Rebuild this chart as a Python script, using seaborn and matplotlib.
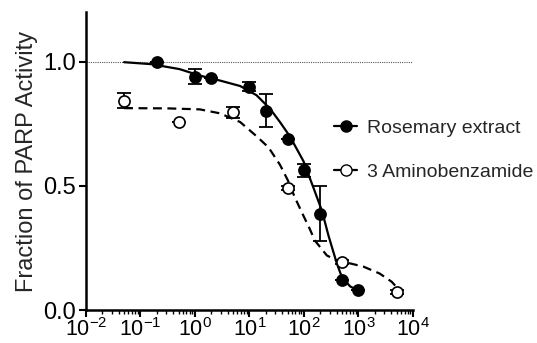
import numpy as np
import pandas as pd
import matplotlib
matplotlib.use("Agg")
import matplotlib.pyplot as plt
from matplotlib.lines import Line2D
from matplotlib.ticker import LogLocator, NullFormatter
import seaborn as sns

# ---- data ----
rose_conc = [0.2, 1, 2, 10, 20, 50, 100, 200, 500, 1000]
rose_frac = [1.0, 0.94, 0.934, 0.90, 0.803, 0.689, 0.562, 0.388, 0.12, 0.08]
rose_err = [0.0, 0.03, 0.0, 0.02, 0.067, 0.0, 0.025, 0.11, 0.0, 0.0]

amb_conc = [0.05, 0.5, 5, 50, 500, 5000]
amb_frac = [0.843, 0.757, 0.797, 0.493, 0.194, 0.074]
amb_err = [0.03, 0.0, 0.022, 0.008, 0.008, 0.008]

# fitted curves (log10 concentration, fraction)
rose_fit_logx = [-1.3, -0.8, -0.28, 0.09, 0.46, 0.83, 1.13, 1.38, 1.56, 1.74,
                 1.99, 2.17, 2.33, 2.45, 2.60, 2.70, 2.85, 3.0]
rose_fit_y = [0.998, 0.99, 0.97, 0.944, 0.924, 0.902, 0.865, 0.81, 0.757, 0.70,
              0.60, 0.495, 0.40, 0.30, 0.19, 0.13, 0.095, 0.078]
amb_fit_logx = [-1.3, -0.5, 0.09, 0.46, 0.83, 1.13, 1.35, 1.56, 1.71, 1.83,
                1.99, 2.10, 2.20, 2.42, 2.60, 2.75, 3.09, 3.39, 3.61, 3.73]
amb_fit_y = [0.813, 0.812, 0.808, 0.792, 0.757, 0.70, 0.655, 0.585, 0.52, 0.455,
             0.38, 0.33, 0.28, 0.22, 0.20, 0.193, 0.175, 0.147, 0.114, 0.085]

labels = ["Rosemary extract", "3 Aminobenzamide"]
y_ticks = [0.0, 0.5, 1.0]
x_ticks = [1e-2, 1e-1, 1e0, 1e1, 1e2, 1e3, 1e4]
x_ticklabels = ["10$^{-2}$", "10$^{-1}$", "10$^{0}$", "10$^{1}$",
                "10$^{2}$", "10$^{3}$", "10$^{4}$"]
ylabel = "Fraction of PARP Activity"

# ---- style ----
sns.set_theme(style="ticks")
plt.rcParams["font.family"] = ["Liberation Sans", "DejaVu Sans"]
plt.rcParams["mathtext.default"] = "regular"

fig = plt.figure(figsize=(5.37, 3.43), dpi=100)
ax = fig.add_axes([0.160, 0.096, 0.609, 0.869])
ax.set_xscale("log")

ax.axhline(1.0, ls=(0, (1, 1)), lw=0.8, color="0.35", zorder=1)

rose_fit = pd.DataFrame({"x": np.power(10.0, rose_fit_logx), "y": rose_fit_y})
amb_fit = pd.DataFrame({"x": np.power(10.0, amb_fit_logx), "y": amb_fit_y})
sns.lineplot(data=rose_fit, x="x", y="y", ax=ax, color="black", lw=1.6,
             sort=False, zorder=2)
sns.lineplot(data=amb_fit, x="x", y="y", ax=ax, color="black", lw=1.6,
             sort=False, zorder=2, dashes=False, linestyle=(0, (4, 2.5)))

ax.errorbar(rose_conc, rose_frac, yerr=rose_err, fmt="none", ecolor="black",
            elinewidth=1.3, capsize=5, capthick=1.3, zorder=3)
ax.errorbar(amb_conc, amb_frac, yerr=amb_err, fmt="none", ecolor="black",
            elinewidth=1.3, capsize=5, capthick=1.3, zorder=3)

sns.scatterplot(x=rose_conc, y=rose_frac, ax=ax, s=64, color="black",
                edgecolor="black", linewidth=1.2, zorder=4)
sns.scatterplot(x=amb_conc, y=amb_frac, ax=ax, s=64, facecolor="white",
                edgecolor="black", linewidth=1.2, zorder=4)

ax.set_xlim(1e-2, 1e4)
ax.set_ylim(0, 1.2)
ax.set_xticks(x_ticks)
ax.set_xticklabels(x_ticklabels)
ax.xaxis.set_minor_locator(LogLocator(base=10, subs=np.arange(2, 10), numticks=20))
ax.xaxis.set_minor_formatter(NullFormatter())
ax.set_yticks(y_ticks)
ax.set_yticklabels([f"{v:.1f}" for v in y_ticks])
ax.set_xlabel("")
ax.set_ylabel(ylabel, fontsize=17, labelpad=4)

for s in ["top", "right"]:
    ax.spines[s].set_visible(False)
for s in ["left", "bottom"]:
    ax.spines[s].set_linewidth(1.8)
    ax.spines[s].set_color("black")
ax.tick_params(axis="both", which="major", length=5, width=1.5, colors="black",
               labelsize=17, pad=2)
ax.tick_params(axis="x", which="major", labelsize=15.5, pad=0.5)
ax.tick_params(axis="x", which="minor", length=3, width=1.0, colors="black")

handles = [
    Line2D([0], [0], color="black", lw=1.6, marker="o", ms=8,
           mfc="black", mec="black"),
    Line2D([0], [0], color="black", lw=1.6, marker="o", ms=8,
           mfc="white", mec="black"),
]
fig.legend(handles, labels, loc="center left", bbox_to_anchor=(0.622, 0.563),
           frameon=False, fontsize=14, handlelength=1.2, handletextpad=0.5,
           labelspacing=1.35, borderpad=0, borderaxespad=0)

fig.savefig("out.png", dpi=100)
